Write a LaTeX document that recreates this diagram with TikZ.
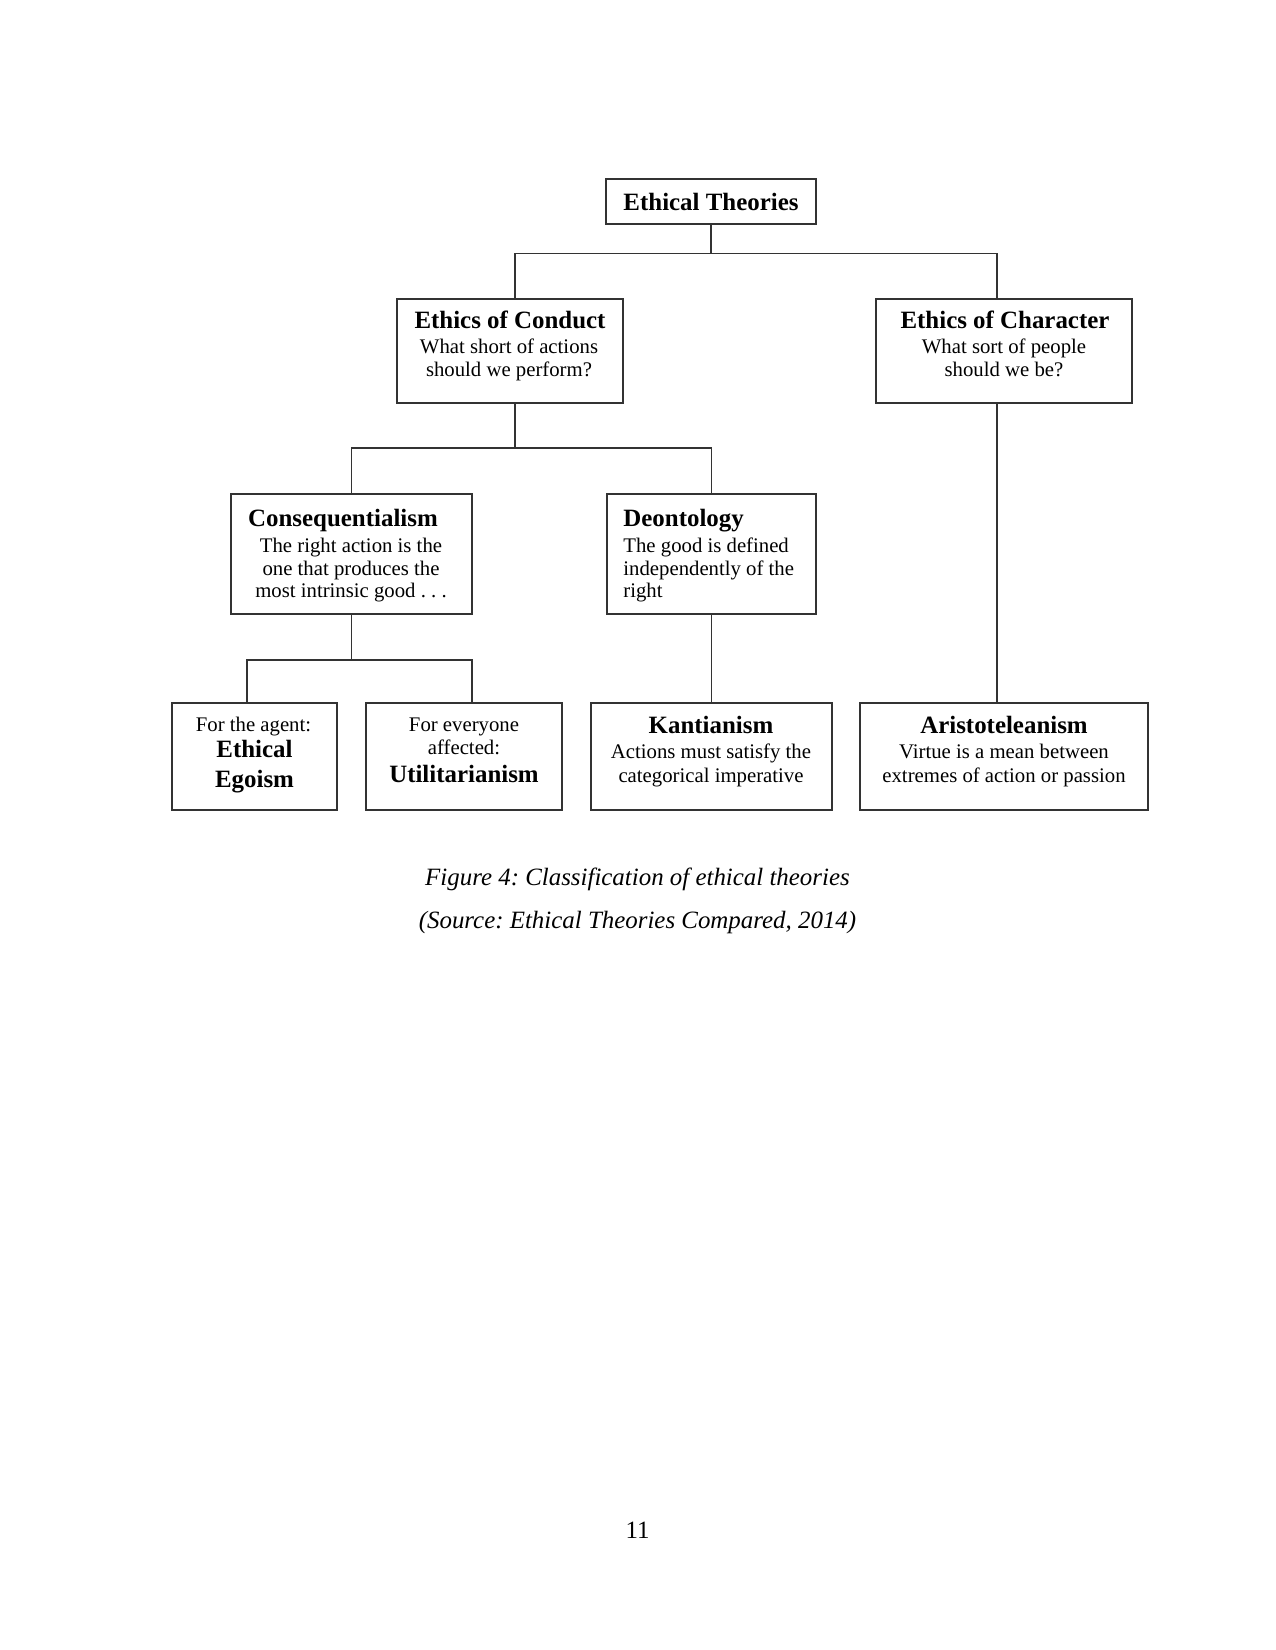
\documentclass[tikz,border=0pt]{standalone}
\usepackage{fontspec}
\setmainfont{Liberation Serif}
\usetikzlibrary{calc}
\newcommand\bx[5]{\node[box, minimum width={(#4-#2)*0.4818pt}, minimum height={(#5-#3)*0.4818pt}] (#1) at ({(#2+#4)/2},{(#3+#5)/2}) {};}
\frenchspacing
\begin{document}
\begin{tikzpicture}[x=0.4818pt,y=-0.4818pt,
  box/.style={draw=black!80, line width=0.6pt, inner sep=0pt, outer sep=0pt},
  conn/.style={draw=black!80, line width=0.6pt},
  ttl/.style={font=\fontsize{12}{14}\selectfont\bfseries, inner sep=0pt, anchor=base},
  txt/.style={font=\fontsize{10}{12}\selectfont, inner sep=0pt, anchor=base},
  lft/.style={anchor=base west},
  captext/.style={font=\fontsize{12}{14}\selectfont\itshape, inner sep=0pt, anchor=base}]
\useasboundingbox[fill=white] (0,0) rectangle (1275,1650);
% boxes
\bx{et}{606}{179}{816}{224}
\bx{ec}{397}{299}{623}{403}
\bx{ech}{876}{299}{1132}{403}
\bx{cons}{231}{494}{472}{614}
\bx{deon}{607}{494}{816}{614}
\bx{ego}{172}{703}{337}{810}
\bx{util}{366}{703}{562}{810}
\bx{kant}{591}{703}{832}{810}
\bx{arist}{860}{703}{1148}{810}
% connectors
\draw[conn] (et.south) -- ++(0,29.5) -| ($(ec.north)+(5,0)$);
\draw[conn] (et.south) -- ++(0,29.5) -| ($(ech.north)+(-7,0)$);
\draw[conn] ($(ec.south)+(5,0)$) -- ++(0,45) -| (cons.north);
\draw[conn] ($(ec.south)+(5,0)$) -- ++(0,45) -| (deon.north);
\draw[conn] (cons.south) -- ++(0,46) -| ($(ego.north)+(-7.5,0)$);
\draw[conn] (cons.south) -- ++(0,46) -| ($(util.north)+(8,0)$);
\draw[conn] (deon.south) -- (kant.north);
\draw[conn] ($(ech.south)+(-7,0)$) -- ($(arist.north)+(-7,0)$);
% texts
\node[ttl] (t-et) at (711,211) {Ethical Theories};
\node[ttl] (t-ec) at (510,329) {Ethics of Conduct};
\node[txt] (t-ec1) at (509,354) {What short of actions};
\node[txt] (t-ec2) at (509,377) {should we perform?};
\node[ttl] (t-ech) at (1005,329) {Ethics of Character};
\node[txt] (t-ech1) at (1004,354) {What sort of people};
\node[txt] (t-ech2) at (1004,377) {should we be?};
\node[ttl] (t-cons) at (343,526) {Consequentialism};
\node[txt] (t-cons1) at (351,552) {The right action is the};
\node[txt] (t-cons2) at (351,575) {one that produces the};
\node[txt] (t-cons3) at (351,597) {most intrinsic good\ .\ .\ .};
\node[ttl,lft] (t-deon) at (623,526) {Deontology};
\node[txt,lft] (t-deon1) at (623,552) {The good is defined};
\node[txt,lft] (t-deon2) at (623,575) {independently of the};
\node[txt,lft] (t-deon3) at (623,597) {right};
\node[txt] (t-ego1) at (253.5,731) {For the agent:};
\node[ttl] (t-ego2) at (254.5,757) {Ethical};
\node[ttl] (t-ego3) at (254.5,787) {Egoism};
\node[txt] (t-util1) at (464,731) {For everyone};
\node[txt] (t-util2) at (464,754) {affected:};
\node[ttl] (t-util3) at (464,782) {Utilitarianism};
\node[ttl] (t-kant) at (711,733) {Kantianism};
\node[txt] (t-kant1) at (711,758) {Actions must satisfy the};
\node[txt] (t-kant2) at (711,782) {categorical imperative};
\node[ttl] (t-arist) at (1004,733) {Aristoteleanism};
\node[txt] (t-arist1) at (1004,758) {Virtue is a mean between};
\node[txt] (t-arist2) at (1004,782) {extremes of action or passion};
% captions
\node[captext] (cap1) at (637.5,885) {Figure 4: Classification of ethical theories};
\node[captext] (cap2) at (637.5,928) {(Source: Ethical Theories Compared, 2014)};
\node[font=\fontsize{12}{14}\selectfont, inner sep=0pt, anchor=base] (pg) at (637.5,1538) {11};
\end{tikzpicture}
\end{document}
